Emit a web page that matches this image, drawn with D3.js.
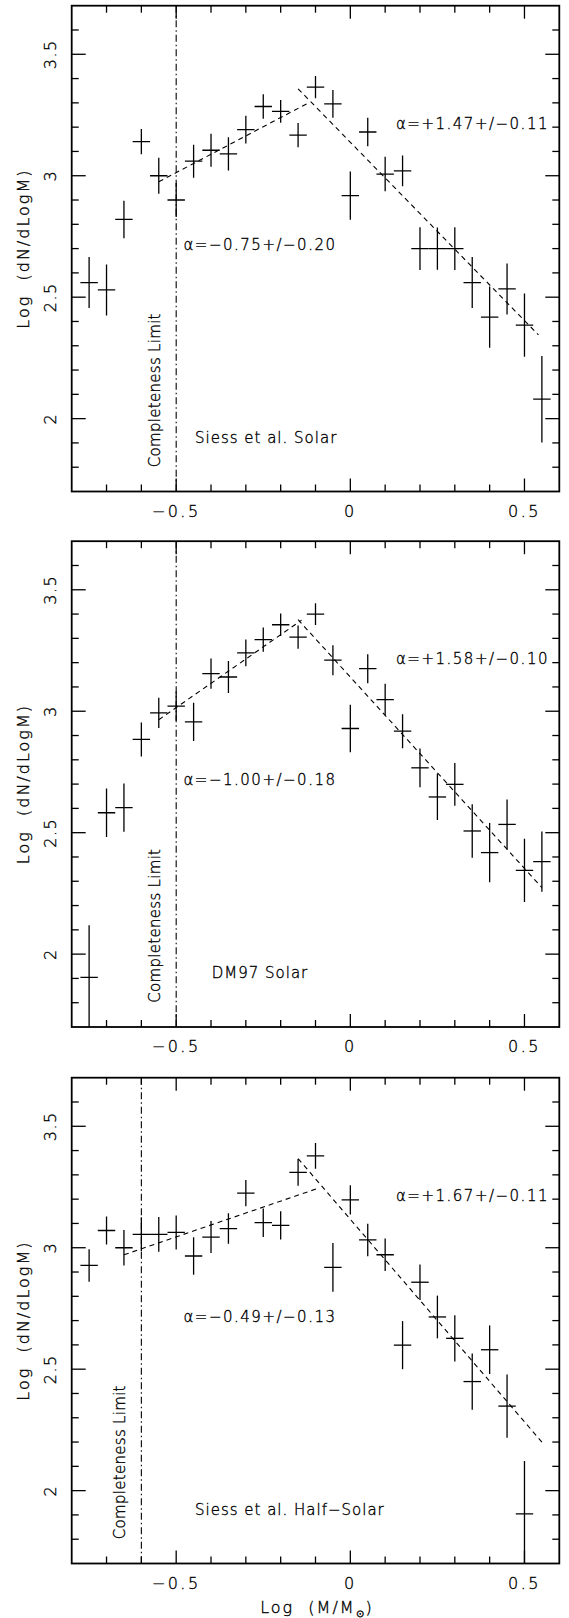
<!DOCTYPE html>
<html>
<head>
<meta charset="utf-8">
<script src="https://cdn.jsdelivr.net/npm/d3@7"></script>
<style>
  body { margin: 0; background: #fff; }
  svg { display: block; }
  text { font-family: "DejaVu Sans", sans-serif; font-weight: 200; fill: #000;
         stroke: #000; stroke-width: 0.35px; white-space: pre; }
</style>
</head>
<body>
<svg id="chart" width="569" height="1618"></svg>
<script>
// log mass bins (shared by all panels)
const logMass = [-0.75, -0.70, -0.65, -0.60, -0.55, -0.50, -0.45, -0.40, -0.35, -0.30,
                 -0.25, -0.20, -0.15, -0.10, -0.05, 0.00, 0.05, 0.10, 0.15, 0.20,
                 0.25, 0.30, 0.35, 0.40, 0.45, 0.50, 0.55];

// panel 1: Siess et al. Solar
const siessSolarY   = [2.56, 2.53, 2.82, 3.14, 3.00, 2.90, 3.06, 3.105, 3.09, 3.19,
                       3.285, 3.265, 3.167, 3.365, 3.296, 2.918, 3.18, 3.007, 3.02, 2.70,
                       2.70, 2.70, 2.56, 2.418, 2.534, 2.385, 2.08];
const siessSolarErr = [0.105, 0.105, 0.077, 0.052, 0.074, 0.07, 0.068, 0.068, 0.068, 0.057,
                       0.05, 0.047, 0.05, 0.046, 0.057, 0.099, 0.059, 0.071, 0.063, 0.088,
                       0.087, 0.088, 0.105, 0.126, 0.105, 0.13, 0.178];

// panel 2: DM97 Solar
const dm97Y   = [1.904, 2.582, 2.603, 2.884, 2.993, 3.021, 2.956, 3.155, 3.141, 3.24,
                 3.295, 3.356, 3.305, 3.40, 3.21, 2.929, 3.175, 3.048, 2.918, 2.767,
                 2.647, 2.699, 2.507, 2.418, 2.534, 2.345, 2.381];
const dm97Err = [0.215, 0.10, 0.099, 0.07, 0.062, 0.06, 0.079, 0.062, 0.066, 0.055,
                 0.05, 0.046, 0.048, 0.045, 0.062, 0.098, 0.06, 0.065, 0.07, 0.08,
                 0.095, 0.088, 0.11, 0.122, 0.103, 0.13, 0.124];

// panel 3: Siess et al. Half-Solar (no 0.55 bin)
const siessHalfY   = [2.927, 3.071, 3.00, 3.055, 3.055, 3.063, 2.966, 3.044, 3.079, 3.225,
                      3.103, 3.092, 3.31, 3.378, 2.919, 3.197, 3.032, 2.971, 2.599, 2.858,
                      2.715, 2.627, 2.449, 2.58, 2.348, 1.904];
const siessHalfErr = [0.067, 0.058, 0.073, 0.07, 0.072, 0.07, 0.077, 0.066, 0.063, 0.054,
                      0.059, 0.058, 0.055, 0.053, 0.10, 0.06, 0.067, 0.067, 0.099, 0.073,
                      0.088, 0.095, 0.116, 0.10, 0.13, 0.218];

// fitted power laws: [x0, y0, x1, y1]
const fitLow  = [[-0.55, 2.975, -0.12, 3.30], [-0.55, 2.965, -0.14, 3.375], [-0.65, 2.971, -0.09, 3.246]];
const fitHigh = [[-0.15, 3.358, 0.54, 2.345], [-0.15, 3.377, 0.55, 2.274], [-0.15, 3.367, 0.55, 2.20]];

const slopeLowText  = ["α=−0.75+/−0.20", "α=−1.00+/−0.18", "α=−0.49+/−0.13"];
const slopeHighText = ["α=+1.47+/−0.11", "α=+1.58+/−0.10", "α=+1.67+/−0.11"];
const modelNames    = ["Siess et al. Solar", "DM97 Solar", "Siess et al. Half−Solar"];
const modelNameX    = [-0.446, -0.398, -0.446];
const completeness  = [-0.5, -0.5, -0.6];

const xTickLabels = {"-0.5": "−0.5", "0": "0", "0.5": "0.5"};
const yTickLabels = {"2": "2", "2.5": "2.5", "3": "3", "3.5": "3.5"};

const panels = [
  {y: siessSolarY, err: siessSolarErr},
  {y: dm97Y, err: dm97Err},
  {y: siessHalfY, err: siessHalfErr}
];

// layout
const left = 71.7, right = 559.3;
const panelTop = [5.7, 541.2, 1077.7];
const panelH = 485.8;

const svg = d3.select("#chart");
const x = d3.scaleLinear().domain([-0.8, 0.6]).range([left, right]);

const isMajor = v => Math.abs(v * 2 - Math.round(v * 2)) < 1e-6;

panels.forEach((p, i) => {
  const top = panelTop[i], bottom = top + panelH;
  const y = d3.scaleLinear().domain([1.7, 3.7]).range([bottom, top]);
  const g = svg.append("g");

  const clipId = "clip" + i;
  svg.append("clipPath").attr("id", clipId)
    .append("rect").attr("x", left).attr("y", top)
    .attr("width", right - left).attr("height", panelH);

  // ticks on all four sides, pointing in
  const xt = x.ticks(14).filter(v => v > -0.8 + 1e-6 && v < 0.6 - 1e-6);
  const yt = y.ticks(20).filter(v => v > 1.7 + 1e-6 && v < 3.7 - 1e-6);
  const tickG = g.append("g").attr("stroke", "#000").attr("stroke-width", 1.3);
  xt.forEach(v => {
    const len = isMajor(v) ? 13 : 7;
    tickG.append("line").attr("x1", x(v)).attr("x2", x(v)).attr("y1", bottom).attr("y2", bottom - len);
    tickG.append("line").attr("x1", x(v)).attr("x2", x(v)).attr("y1", top).attr("y2", top + len);
  });
  yt.forEach(v => {
    const len = isMajor(v) ? 14 : 7;
    tickG.append("line").attr("x1", left).attr("x2", left + len).attr("y1", y(v)).attr("y2", y(v));
    tickG.append("line").attr("x1", right).attr("x2", right - len).attr("y1", y(v)).attr("y2", y(v));
  });

  // tick labels
  xt.filter(isMajor).forEach(v => {
    g.append("text").attr("x", x(v)).attr("y", bottom + 25)
      .attr("text-anchor", "middle").attr("font-size", 16).attr("letter-spacing", 2.5)
      .text(xTickLabels[String(+v.toFixed(2))]);
  });
  yt.filter(isMajor).forEach(v => {
    g.append("text").attr("transform", `translate(${left - 16},${y(v)}) rotate(-90)`)
      .attr("text-anchor", "middle").attr("font-size", 16).attr("letter-spacing", 1.5)
      .text(yTickLabels[String(+v.toFixed(2))]);
  });

  // y axis title
  g.append("text").attr("transform", `translate(29,${(top + bottom) / 2}) rotate(-90)`)
    .attr("text-anchor", "middle").attr("font-size", 16).attr("letter-spacing", 2)
    .text("Log  (dN/dLogM)");

  const plot = g.append("g").attr("clip-path", `url(#${clipId})`);

  // completeness limit
  plot.append("line")
    .attr("x1", x(completeness[i])).attr("x2", x(completeness[i]))
    .attr("y1", top).attr("y2", bottom)
    .attr("stroke", "#000").attr("stroke-width", 1.1)
    .attr("stroke-dasharray", "7,3,1.5,3");
  g.append("text")
    .attr("transform", `translate(${x(completeness[i]) - 21},${y(1.80)}) rotate(-90)`)
    .attr("dominant-baseline", "central")
    .attr("font-size", 15).attr("letter-spacing", 0.3)
    .text("Completeness Limit");

  // error-bar crosses
  const pts = p.y.map((v, k) => ({x: logMass[k], y: v, e: p.err[k]}));
  const cross = plot.append("g").attr("stroke", "#000").attr("stroke-width", 1.3);
  cross.selectAll("line.v").data(pts).enter().append("line").attr("class", "v")
    .attr("x1", d => x(d.x)).attr("x2", d => x(d.x))
    .attr("y1", d => y(d.y - d.e)).attr("y2", d => y(d.y + d.e));
  cross.selectAll("line.h").data(pts).enter().append("line").attr("class", "h")
    .attr("x1", d => x(d.x - 0.025)).attr("x2", d => x(d.x + 0.025))
    .attr("y1", d => y(d.y)).attr("y2", d => y(d.y));

  // fitted lines
  [fitLow[i], fitHigh[i]].forEach(f => {
    plot.append("line")
      .attr("x1", x(f[0])).attr("y1", y(f[1]))
      .attr("x2", x(f[2])).attr("y2", y(f[3]))
      .attr("stroke", "#000").attr("stroke-width", 1.1)
      .attr("stroke-dasharray", "5,4");
  });

  // annotations
  g.append("text").attr("x", x(0.131)).attr("y", y(3.215)).attr("dy", "0.36em")
    .attr("font-size", 15).attr("letter-spacing", 1.5).text(slopeHighText[i]);
  g.append("text").attr("x", x(-0.479)).attr("y", y(2.717)).attr("dy", "0.36em")
    .attr("font-size", 15).attr("letter-spacing", 1.5).text(slopeLowText[i]);
  g.append("text").attr("x", x(modelNameX[i])).attr("y", y(1.922)).attr("dy", "0.36em")
    .attr("font-size", 15).attr("letter-spacing", 1).text(modelNames[i]);

  // frame
  g.append("rect").attr("x", left).attr("y", top)
    .attr("width", right - left).attr("height", panelH)
    .attr("fill", "none").attr("stroke", "#000").attr("stroke-width", 1.8);
});

// x axis title under the last panel
const xTitle = svg.append("text")
  .attr("x", 317).attr("y", panelTop[2] + panelH + 49)
  .attr("text-anchor", "middle").attr("font-size", 16).attr("letter-spacing", 2);
xTitle.append("tspan").text("Log  (M/M");
xTitle.append("tspan").attr("font-size", 10).attr("dy", 4).text("⊙");
xTitle.append("tspan").attr("dy", -4).text(")");
</script>
</body>
</html>
